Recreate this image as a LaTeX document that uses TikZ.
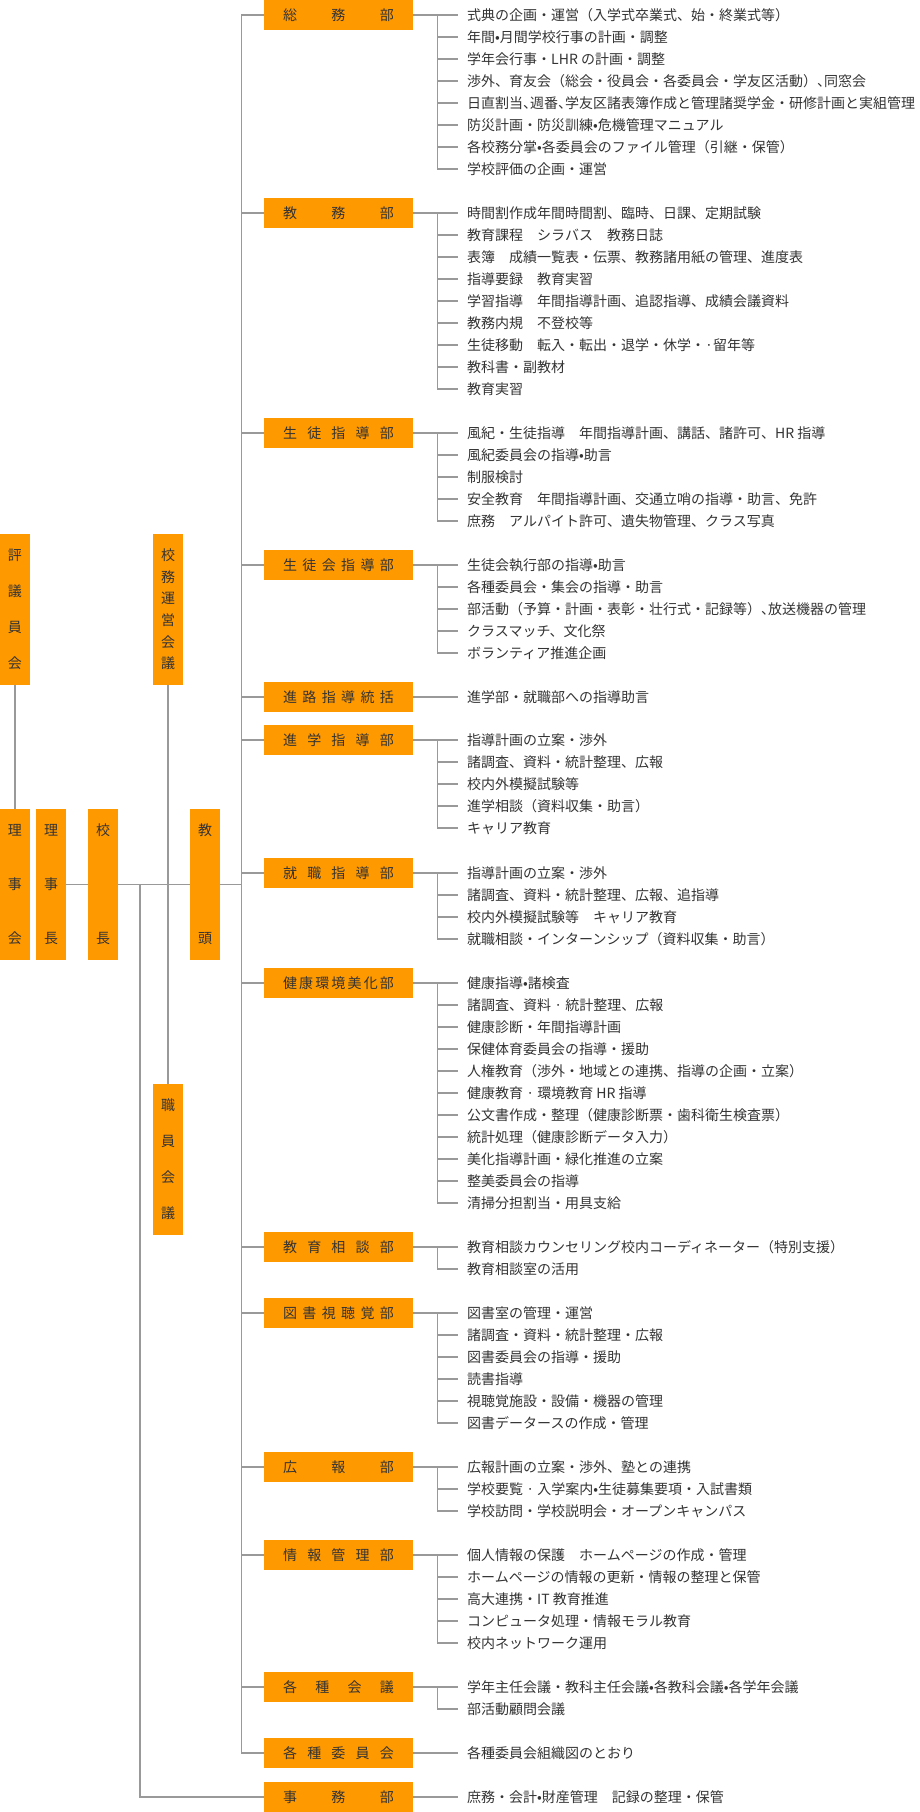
\documentclass[tikz,border=0pt]{standalone}
\usepackage{fontspec}
\setmainfont{Noto Sans CJK JP}
\usepackage{xcolor}
\usepackage{tikz}
\definecolor{orgorange}{RGB}{255,153,0}
\definecolor{orgline}{RGB}{153,153,153}
\definecolor{orgtext}{RGB}{51,51,51}
\newcommand{\orgfont}{\fontsize{14pt}{16pt}\selectfont}
\newcommand{\spread}[1]{\makebox[111pt]{#1}}
\newcommand{\vgap}{\par\vfill}
\newcommand{\vspread}[1]{\parbox[c][120pt][s]{16pt}{\centering #1}}
\newcommand{\tc}{\kern-7pt}
\tikzstyle{deptbox} = [rectangle, fill=orgorange, inner sep=0pt,
minimum width=149pt, minimum height=30pt,
text=orgtext, font=\orgfont, text height=12.3pt, text depth=1.7pt]
\tikzstyle{sidebox} = [rectangle, fill=orgorange, inner sep=0pt,
minimum width=30pt, minimum height=151pt,
text=orgtext, font=\orgfont]
\tikzstyle{itemtext} = [anchor=west, inner xsep=9pt, inner ysep=0pt,
text=orgtext, font=\orgfont, text height=12.3pt, text depth=1.7pt]
\tikzstyle{conn} = [draw=orgline, line width=1.1pt]

\begin{document}
\begin{tikzpicture}[x=1pt, y=-1pt]
    \useasboundingbox (0,0) rectangle (920,1812);

    \node (hyogi)   [sidebox] at (15,609.5)   {\vspread{評\vgap 議\vgap 員\vgap 会}};
    \node (komu)    [sidebox] at (168,609.5)  {\vspread{校\vgap 務\vgap 運\vgap 営\vgap 会\vgap 議}};
    \node (rijikai) [sidebox] at (15,884.5)   {\vspread{理\vgap 事\vgap 会}};
    \node (rijicho) [sidebox] at (51,884.5)   {\vspread{理\vgap 事\vgap 長}};
    \node (kocho)   [sidebox] at (103,884.5)  {\vspread{校\vgap 長}};
    \node (kyoto)   [sidebox] at (205,884.5)  {\vspread{教\vgap 頭}};
    \node (shokuin) [sidebox] at (168,1159.5) {\vspread{職\vgap 員\vgap 会\vgap 議}};

    \node (soumu)    [deptbox] at (338.5,15)   {\spread{総\hfill 務\hfill 部}};
    \node (kyomu)    [deptbox] at (338.5,213)  {\spread{教\hfill 務\hfill 部}};
    \node (seito)    [deptbox] at (338.5,433)  {\spread{生\hfill 徒\hfill 指\hfill 導\hfill 部}};
    \node (seitokai) [deptbox] at (338.5,565)  {\spread{生\hfill 徒\hfill 会\hfill 指\hfill 導\hfill 部}};
    \node (shinro)   [deptbox] at (338.5,697)  {\spread{進\hfill 路\hfill 指\hfill 導\hfill 統\hfill 括}};
    \node (shingaku) [deptbox] at (338.5,740)  {\spread{進\hfill 学\hfill 指\hfill 導\hfill 部}};
    \node (shushoku) [deptbox] at (338.5,873)  {\spread{就\hfill 職\hfill 指\hfill 導\hfill 部}};
    \node (kenko)    [deptbox] at (338.5,983)  {\spread{健\hfill 康\hfill 環\hfill 境\hfill 美\hfill 化\hfill 部}};
    \node (sodan)    [deptbox] at (338.5,1247) {\spread{教\hfill 育\hfill 相\hfill 談\hfill 部}};
    \node (tosho)    [deptbox] at (338.5,1313) {\spread{図\hfill 書\hfill 視\hfill 聴\hfill 覚\hfill 部}};
    \node (koho)     [deptbox] at (338.5,1467) {\spread{広\hfill 報\hfill 部}};
    \node (joho)     [deptbox] at (338.5,1555) {\spread{情\hfill 報\hfill 管\hfill 理\hfill 部}};
    \node (kaigi)    [deptbox] at (338.5,1687) {\spread{各\hfill 種\hfill 会\hfill 議}};
    \node (iinkai)   [deptbox] at (338.5,1753) {\spread{各\hfill 種\hfill 委\hfill 員\hfill 会}};
    \node (jimu)     [deptbox] at (338.5,1797) {\spread{事\hfill 務\hfill 部}};

    \foreach \itm [count=\i] in {式典の企画・運営（入学式卒業式、始・終業式等）, 年間•月間学校行事の計画・調整,
        学年会行事・LHR の計画・調整, 渉外、育友会（総会・役員会・各委員会・学友区活動）、\tc 同窓会,
        日直割当、\tc 週番、\tc 学友区諸表簿作成と管理諸奨学金・研修計画と実組管理, 防災計画・防災訓練•危機管理マニュアル,
        各校務分掌•各委員会のファイル管理（引継・保管）, 学校評価の企画・運営} {
        \node (soumu-\i) [itemtext] at (458,{15+22*(\i-1)}) {\itm};
        \draw[conn] (soumu.east) -- ++(24,0) |- (soumu-\i.west);
    }
    \foreach \itm [count=\i] in {時間割作成年間時間割、臨時、日課、定期試験, 教育課程　シラバス　教務日誌,
        表簿　成績一覧表・伝票、教務諸用紙の管理、進度表, 指導要録　教育実習,
        学習指導　年間指導計画、追認指導、成績会議資料, 教務内規　不登校等,
        生徒移動　転入・転出・退学・休学・·留年等, 教科書・副教材, 教育実習} {
        \node (kyomu-\i) [itemtext] at (458,{213+22*(\i-1)}) {\itm};
        \draw[conn] (kyomu.east) -- ++(24,0) |- (kyomu-\i.west);
    }
    \foreach \itm [count=\i] in {風紀・生徒指導　年間指導計画、講話、諸許可、HR 指導, 風紀委員会の指導•助言, 制服検討,
        安全教育　年間指導計画、交通立哨の指導・助言、免許, 庶務　アルパイト許可、遺失物管理、クラス写真} {
        \node (seito-\i) [itemtext] at (458,{433+22*(\i-1)}) {\itm};
        \draw[conn] (seito.east) -- ++(24,0) |- (seito-\i.west);
    }
    \foreach \itm [count=\i] in {生徒会執行部の指導•助言, 各種委員会・集会の指導・助言,
        部活動（予算・計画・表彰・壮行式・記録等）、\tc 放送機器の管理, クラスマッチ、文化祭, ボランティア推進企画} {
        \node (seitokai-\i) [itemtext] at (458,{565+22*(\i-1)}) {\itm};
        \draw[conn] (seitokai.east) -- ++(24,0) |- (seitokai-\i.west);
    }
    \node (shinro-1) [itemtext] at (458,697) {進学部・就職部への指導助言};
    \draw[conn] (shinro.east) -- (shinro-1.west);
    \foreach \itm [count=\i] in {指導計画の立案・渉外, 諸調査、資料・統計整理、広報, 校内外模擬試験等,
        進学相談（資料収集・助言）, キャリア教育} {
        \node (shingaku-\i) [itemtext] at (458,{740+22*(\i-1)}) {\itm};
        \draw[conn] (shingaku.east) -- ++(24,0) |- (shingaku-\i.west);
    }
    \foreach \itm [count=\i] in {指導計画の立案・渉外, 諸調査、資料・統計整理、広報、追指導,
        校内外模擬試験等　キャリア教育, 就職相談・インターンシップ（資料収集・助言）} {
        \node (shushoku-\i) [itemtext] at (458,{873+22*(\i-1)}) {\itm};
        \draw[conn] (shushoku.east) -- ++(24,0) |- (shushoku-\i.west);
    }
    \foreach \itm [count=\i] in {健康指導•諸検査, 諸調査、資料 · 統計整理、広報, 健康診断・年間指導計画,
        保健体育委員会の指導・援助, 人権教育（渉外・地域との連携、指導の企画・立案）, 健康教育 · 環境教育 HR 指導,
        公文書作成・整理（健康診断票・歯科衛生検査票）, 統計処理（健康診断データ入力）,
        美化指導計画・緑化推進の立案, 整美委員会の指導, 清掃分担割当・用具支給} {
        \node (kenko-\i) [itemtext] at (458,{983+22*(\i-1)}) {\itm};
        \draw[conn] (kenko.east) -- ++(24,0) |- (kenko-\i.west);
    }
    \foreach \itm [count=\i] in {教育相談カウンセリング校内コーディネーター（特別支援）, 教育相談室の活用} {
        \node (sodan-\i) [itemtext] at (458,{1247+22*(\i-1)}) {\itm};
        \draw[conn] (sodan.east) -- ++(24,0) |- (sodan-\i.west);
    }
    \foreach \itm [count=\i] in {図書室の管理・運営, 諸調査・資料・統計整理・広報, 図書委員会の指導・援助,
        読書指導, 視聴覚施設・設備・機器の管理, 図書データースの作成・管理} {
        \node (tosho-\i) [itemtext] at (458,{1313+22*(\i-1)}) {\itm};
        \draw[conn] (tosho.east) -- ++(24,0) |- (tosho-\i.west);
    }
    \foreach \itm [count=\i] in {広報計画の立案・渉外、塾との連携, 学校要覧 · 入学案内•生徒募集要項・入試書類,
        学校訪問・学校説明会・オープンキャンパス} {
        \node (koho-\i) [itemtext] at (458,{1467+22*(\i-1)}) {\itm};
        \draw[conn] (koho.east) -- ++(24,0) |- (koho-\i.west);
    }
    \foreach \itm [count=\i] in {個人情報の保護　ホームページの作成・管理, ホームページの情報の更新・情報の整理と保管,
        高大連携・IT 教育推進, コンピュータ処理・情報モラル教育, 校内ネットワーク運用} {
        \node (joho-\i) [itemtext] at (458,{1555+22*(\i-1)}) {\itm};
        \draw[conn] (joho.east) -- ++(24,0) |- (joho-\i.west);
    }
    \foreach \itm [count=\i] in {学年主任会議・教科主任会議•各教科会議•各学年会議, 部活動顧問会議} {
        \node (kaigi-\i) [itemtext] at (458,{1687+22*(\i-1)}) {\itm};
        \draw[conn] (kaigi.east) -- ++(24,0) |- (kaigi-\i.west);
    }
    \node (iinkai-1) [itemtext] at (458,1753) {各種委員会組織図のとおり};
    \draw[conn] (iinkai.east) -- (iinkai-1.west);
    \node (jimu-1) [itemtext] at (458,1797) {庶務・会計•財産管理　記録の整理・保管};
    \draw[conn] (jimu.east) -- (jimu-1.west);

    \draw[conn] (soumu.west) -- ++(-22,0) |- (iinkai.west);
    \foreach \d in {kyomu, seito, seitokai, shinro, shingaku, shushoku, kenko, sodan, tosho, koho, joho, kaigi}
        \draw[conn] (\d.west) -- ++(-22,0);
    \draw[conn] (kyoto.east) -- ++(22,0);
    \draw[conn] (hyogi.south) -- (rijikai.north);
    \draw[conn] (rijicho.east) -- (kocho.west);
    \draw[conn] (kocho.east) -- (kyoto.west);
    \draw[conn] (komu.south) -- (shokuin.north);
    \coordinate (jimuturn) at (140,884.5);
    \draw[conn] (jimuturn) |- (jimu.west);
\end{tikzpicture}
\end{document}
